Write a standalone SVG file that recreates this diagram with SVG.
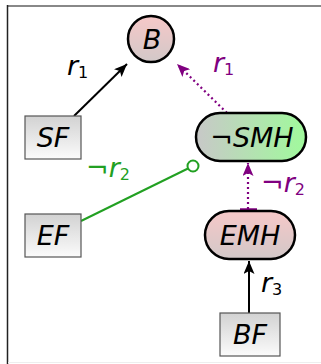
<svg xmlns="http://www.w3.org/2000/svg" width="321" height="364" viewBox="0 0 321 364">
<style>
text{font-family:"DejaVu Sans",sans-serif;font-size:27px;font-style:italic;text-anchor:middle}
.lab{text-anchor:start}
.up{font-style:normal}
.sub{font-size:16px;font-style:normal}
.box{stroke:#555;stroke-width:1.2;fill:url(#gBox)}
.node{stroke:#000;stroke-width:2.5}
.blk{stroke:#000;stroke-width:2;fill:none}
.pur{stroke:#800080;stroke-width:2.2;stroke-dasharray:2 3;fill:none}
.grn{stroke:#22a022;stroke-width:2;fill:none}
</style>
<defs>
<linearGradient id="gBox" x1="0" y1="0" x2="0" y2="1"><stop offset="0" stop-color="#d2d2d2"/><stop offset="1" stop-color="#fbfbfb"/></linearGradient>
<linearGradient id="gPink" x1="0" y1="0" x2="0" y2="1"><stop offset="0" stop-color="#f6c8c8"/><stop offset="1" stop-color="#d2c8c8"/></linearGradient>
<linearGradient id="gGreen" x1="0" y1="0" x2="1" y2="0"><stop offset="0" stop-color="#c8c8c8"/><stop offset="1" stop-color="#a0fa9c"/></linearGradient>
<marker id="aBlk" markerUnits="userSpaceOnUse" markerWidth="14" markerHeight="11" refX="13" refY="5.5" orient="auto"><path d="M0,0 L13,5.5 L0,11 L3,5.5 z" fill="#000"/></marker>
<marker id="aPur" markerUnits="userSpaceOnUse" markerWidth="14" markerHeight="11" refX="13" refY="5.5" orient="auto"><path d="M0,0 L13,5.5 L0,11 L3,5.5 z" fill="#800080"/></marker>
</defs>
<g id="frame">
<line x1="7" y1="6" x2="321" y2="6" stroke="#888" stroke-width="2"/>
<line x1="7.5" y1="5" x2="7.5" y2="364" stroke="#222" stroke-width="1.5"/>
<line x1="8" y1="362.5" x2="321" y2="362.5" stroke="#eee" stroke-width="1"/>
</g>
<g id="connectors">
<line class="blk" x1="74" y1="116" x2="127" y2="64" marker-end="url(#aBlk)"/>
<line class="pur" x1="227" y1="113" x2="177" y2="64" marker-end="url(#aPur)"/>
<line class="grn" x1="81" y1="221" x2="188" y2="168.5"/>
<circle cx="193" cy="166" r="5.5" fill="#fff" stroke="#22a022" stroke-width="2"/>
<line class="pur" x1="248" y1="209" x2="248" y2="163" marker-end="url(#aPur)"/>
<line x1="240" y1="209.5" x2="257" y2="209.5" stroke="#800080" stroke-width="2.5"/>
<line class="blk" x1="249" y1="313" x2="249" y2="261" marker-end="url(#aBlk)"/>
<text class="lab" x="67" y="75" fill="#000">r<tspan class="sub" dy="3">1</tspan></text>
<text class="lab" x="213" y="72" fill="#800080">r<tspan class="sub" dy="3">1</tspan></text>
<text class="lab" x="86" y="177" fill="#22a022"><tspan class="up">¬</tspan>r<tspan class="sub" dy="3">2</tspan></text>
<text class="lab" x="261" y="192" fill="#800080"><tspan class="up">¬</tspan>r<tspan class="sub" dy="3">2</tspan></text>
<text class="lab" x="261" y="292" fill="#000">r<tspan class="sub" dy="3">3</tspan></text>
</g>
<g id="B"><circle class="node" cx="151" cy="39" r="23" fill="url(#gPink)"/><text x="152" y="49">B</text></g>
<g id="SF"><rect class="box" x="25" y="116" width="56" height="43"/><text x="53" y="147">SF</text></g>
<g id="EF"><rect class="box" x="25" y="214" width="56" height="43"/><text x="53" y="245">EF</text></g>
<g id="BF"><rect class="box" x="220" y="313" width="60" height="43"/><text x="250" y="344">BF</text></g>
<g id="SMH"><rect class="node" x="196" y="113" width="110" height="48" rx="24" fill="url(#gGreen)"/><text x="252" y="147"><tspan class="up">¬</tspan>SMH</text></g>
<g id="EMH"><rect class="node" x="205" y="211" width="90" height="48" rx="24" fill="url(#gPink)"/><text x="250" y="245">EMH</text></g>
</svg>
